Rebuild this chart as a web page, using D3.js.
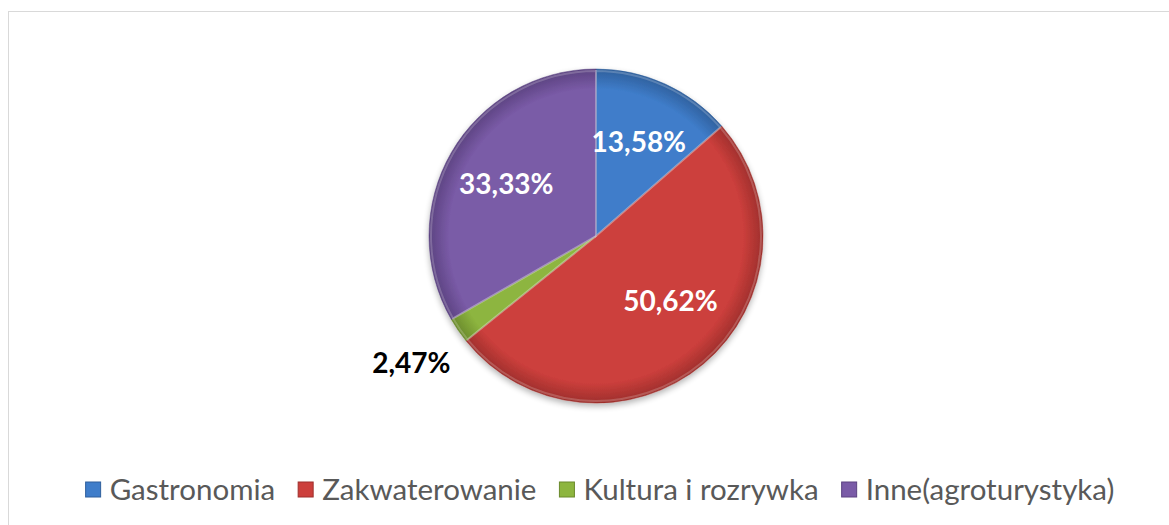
<!DOCTYPE html>
<html>
<head>
<meta charset="utf-8">
<script src="https://cdn.jsdelivr.net/npm/d3@7"></script>
<style>
  body { margin: 0; background: #fff; }
  svg { display: block; }
</style>
</head>
<body>
<div id="chart"></div>
<script>
const width = 1169;
const height = 525;

// data
const categories = ["Gastronomia", "Zakwaterowanie", "Kultura i rozrywka", "Inne(agroturystyka)"];
const values = [13.58, 50.62, 2.47, 33.33];
const labels = ["13,58%", "50,62%", "2,47%", "33,33%"];
const colors = ["#3f7dca", "#cc3f3c", "#8db53f", "#7a5ba7"];
const darkColors = ["#2f5f9c", "#9e2f2c", "#6a8a2c", "#5c4381"];

const data = categories.map((c, i) => ({ name: c, value: values[i], label: labels[i], color: colors[i], dark: darkColors[i] }));

const cx = 596, cy = 236, radius = 167;

const svg = d3.select("#chart").append("svg")
    .attr("width", width)
    .attr("height", height);

const defs = svg.append("defs");

// soft shadow under the pie
const shadow = defs.append("filter").attr("id", "shadow")
    .attr("x", "-20%").attr("y", "-20%").attr("width", "140%").attr("height", "140%");
shadow.append("feGaussianBlur").attr("in", "SourceAlpha").attr("stdDeviation", 3);
shadow.append("feOffset").attr("dx", 0).attr("dy", 3).attr("result", "off");
shadow.append("feComponentTransfer").append("feFuncA").attr("type", "linear").attr("slope", 0.3);
const merge = shadow.append("feMerge");
merge.append("feMergeNode");
merge.append("feMergeNode").attr("in", "SourceGraphic");

// a gradient per slice for the bevel look (local coords of the pie group)
data.forEach((d, i) => {
    const g = defs.append("radialGradient")
        .attr("id", "grad" + i)
        .attr("gradientUnits", "userSpaceOnUse")
        .attr("cx", 0).attr("cy", 0).attr("r", radius);
    g.append("stop").attr("offset", "0%").attr("stop-color", d.color);
    g.append("stop").attr("offset", "88%").attr("stop-color", d.color);
    g.append("stop").attr("offset", "100%").attr("stop-color", d.dark);
});

// chart border
svg.append("rect")
    .attr("x", 8.5)
    .attr("y", 11.5)
    .attr("width", width)
    .attr("height", height)
    .attr("fill", "none")
    .attr("stroke", "#d9d9d9")
    .attr("stroke-width", 1);

const pie = d3.pie()
    .sort(null)
    .value(d => d.value);

const arc = d3.arc()
    .innerRadius(0)
    .outerRadius(radius);

const labelArc = d3.arc()
    .innerRadius(radius * 0.62)
    .outerRadius(radius * 0.62);

const outerLabelArc = d3.arc()
    .innerRadius(radius * 1.34)
    .outerRadius(radius * 1.34);

const g = svg.append("g")
    .attr("transform", `translate(${cx},${cy})`);

const slices = g.append("g").attr("filter", "url(#shadow)");

slices.selectAll("path")
    .data(pie(data))
    .enter().append("path")
    .attr("d", arc)
    .attr("fill", (d, i) => `url(#grad${i})`)
    .attr("stroke", (d) => d.data.dark)
    .attr("stroke-opacity", 0.5)
    .attr("stroke-width", 1);

// light highlight along slice edges
slices.selectAll(".hl")
    .data(pie(data))
    .enter().append("path")
    .attr("class", "hl")
    .attr("d", d3.arc().innerRadius(0).outerRadius(radius - 2))
    .attr("fill", "none")
    .attr("stroke", "#ffffff")
    .attr("stroke-opacity", 0.2)
    .attr("stroke-width", 2);

// data labels (the big slice's label sits a little higher, like the original)
g.selectAll(".lbl")
    .data(pie(data))
    .enter().append("text")
    .attr("class", "lbl")
    .attr("transform", d => {
        const small = d.data.value < 5;
        const p = small ? outerLabelArc.centroid(d) : labelArc.centroid(d);
        const lift = d.data.value > 50 ? -14 : 0;
        return `translate(${p[0] + (lift ? 8 : 0)},${p[1] + lift})`;
    })
    .attr("text-anchor", "middle")
    .attr("dy", "0.36em")
    .style("font-family", "Lato, 'Open Sans', sans-serif")
    .style("font-weight", "bold")
    .style("font-size", "28px")
    .style("fill", d => d.data.value < 5 ? "#000000" : "#ffffff")
    .text(d => d.data.label);

// legend
const legend = svg.append("g").attr("class", "legend");
const items = legend.selectAll("g")
    .data(data)
    .enter().append("g");

items.append("rect")
    .attr("width", 15)
    .attr("height", 15)
    .attr("y", -8)
    .attr("fill", d => d.color)
    .attr("stroke", d => d.dark)
    .attr("stroke-width", 1);

items.append("text")
    .attr("x", 24)
    .attr("dy", "0.35em")
    .style("font-family", "Lato, 'Open Sans', sans-serif")
    .style("font-size", "29.5px")
    .style("fill", "#595959")
    .text(d => d.name);

// place legend items in one row, centred
let xPos = 0;
const gap = 23;
items.each(function () {
    const w = this.getBBox().width;
    d3.select(this).attr("data-x", xPos);
    xPos += w + gap;
});
const total = xPos - gap;
const startX = 600 - total / 2;
items.attr("transform", function () {
    return `translate(${startX + (+d3.select(this).attr("data-x"))},490)`;
});
</script>
</body>
</html>
